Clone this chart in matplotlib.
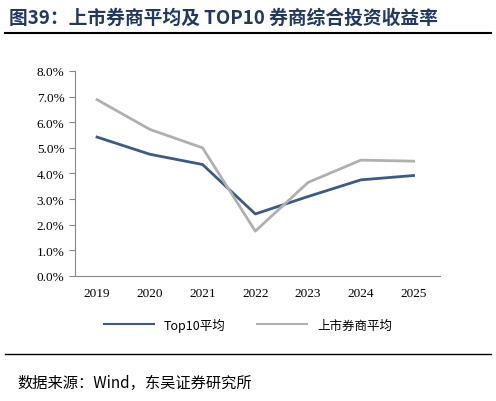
import matplotlib
matplotlib.use('Agg')
import matplotlib.pyplot as plt
from matplotlib.lines import Line2D

years = ['2019', '2020', '2021', '2022', '2023', '2024', '2025']
top10 = [5.42, 4.75, 4.35, 2.42, 3.10, 3.75, 3.92]
listed = [6.88, 5.72, 5.00, 1.75, 3.65, 4.52, 4.48]
yticks = [0, 1, 2, 3, 4, 5, 6, 7, 8]

cjk = ['Noto Sans CJK SC', 'DejaVu Sans']
serif = ['Liberation Serif', 'Noto Sans CJK SC']

fig = plt.figure(figsize=(4.96, 4.02), dpi=100)
ax = fig.add_axes([0.151, 0.311, 0.736, 0.51])
x = range(len(years))
ax.plot(x, top10, color='#3A5A8C', lw=2, label='Top10平均')
ax.plot(x, listed, color='#B0B0B0', lw=2, label='上市券商平均')
ax.set_xlim(-0.42, 6.5)
ax.set_ylim(0, 8)
ax.set_yticks(yticks)
ax.set_yticklabels([f'{v:.1f}%' for v in yticks], fontfamily=serif, fontsize=9.5)
ax.set_xticks(list(x))
ax.set_xticklabels(years, fontfamily=serif, fontsize=9.5)
for s in ['top', 'right']:
    ax.spines[s].set_visible(False)
ax.spines['left'].set_color('#888888')
ax.spines['bottom'].set_color('#888888')
ax.tick_params(axis='y', length=4, color='#888888')
ax.tick_params(axis='x', length=0, pad=8)

leg = fig.legend(loc='center', bbox_to_anchor=(0.5, 0.19), ncol=2, frameon=False,
                 prop={'family': cjk, 'size': 9}, handlelength=4, columnspacing=2.5)
for l in leg.get_lines():
    l.set_linewidth(1.5)

fig.text(0.018, 0.955, '图39：上市券商平均及 TOP10 券商综合投资收益率', fontfamily=cjk,
         fontweight='bold', fontsize=13.5, color='#1F3864', va='center')
fig.add_artist(Line2D([0.01, 0.99], [0.915, 0.915], color='black', lw=1.5))
fig.add_artist(Line2D([0.01, 0.99], [0.117, 0.117], color='black', lw=1))
fig.text(0.035, 0.045, '数据来源：Wind，东吴证券研究所', fontfamily=cjk, fontsize=11, va='center')
fig.savefig('out.png', dpi=100)
